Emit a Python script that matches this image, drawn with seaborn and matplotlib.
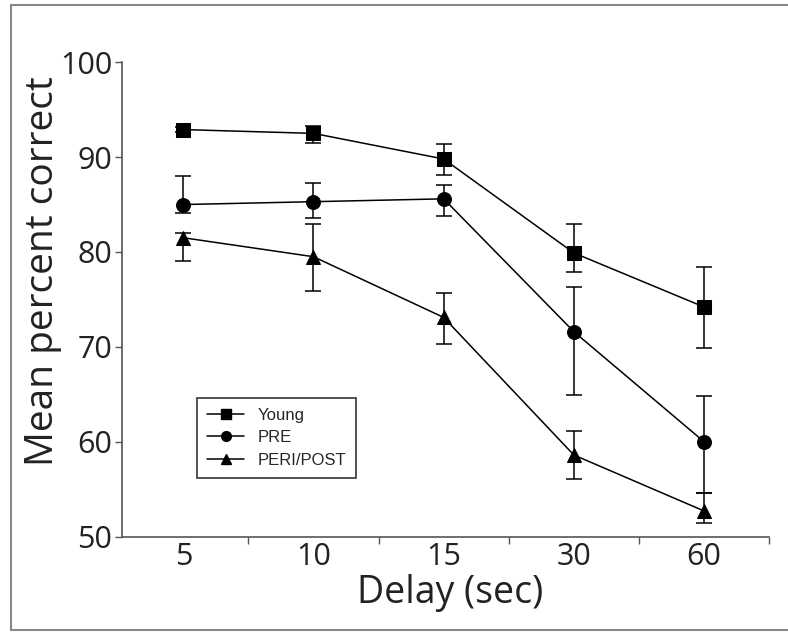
import numpy as np
import pandas as pd
import matplotlib.pyplot as plt
import seaborn as sns
from matplotlib.lines import Line2D


# Data
delays = ['5', '10', '15', '30', '60']
groups = ['Young', 'PRE', 'PERI/POST']

young    = [92.9, 92.5, 89.8, 79.9, 74.2]
young_lo = [0.3, 1.0, 1.7, 2.0, 4.3]
young_hi = [0.3, 0.8, 1.6, 3.1, 4.2]

pre      = [85.0, 85.3, 85.6, 71.6, 60.0]
pre_lo   = [0.9, 1.7, 1.8, 6.7, 5.4]
pre_hi   = [3.0, 2.0, 1.5, 4.7, 4.8]

peri     = [81.5, 79.5, 73.1, 58.6, 52.7]
peri_lo  = [2.4, 3.6, 2.8, 2.5, 1.3]
peri_hi  = [0.5, 3.5, 2.6, 2.5, 1.9]


sns.set_style('ticks')
plt.rcParams['font.family'] = ['Open Sans', 'DejaVu Sans']

x  = np.arange(len(delays))
df = pd.DataFrame({'pos'  : np.tile(x, len(groups)),
                   'score': young + pre + peri,
                   'group': np.repeat(groups, len(delays))})

markers = {'Young': 's', 'PRE': 'o', 'PERI/POST': '^'}

fig = plt.figure(figsize = (7.88, 6.35), dpi = 100)
ax  = fig.add_axes([0.155, 0.155, 0.821, 0.747])

# error bars first, markers on top
errs = {'Young': (young, young_lo, young_hi),
        'PRE': (pre, pre_lo, pre_hi),
        'PERI/POST': (peri, peri_lo, peri_hi)}
for g in groups:
    vals, lo, hi = errs[g]
    ax.errorbar(x, vals, yerr = [lo, hi], fmt = 'none', ecolor = 'black',
                elinewidth = 1.1, capsize = 6, capthick = 1.1, zorder = 2)

sns.lineplot(data = df, x = 'pos', y = 'score', hue = 'group', style = 'group',
             markers = markers, dashes = False, palette = ['black'] * 3,
             markersize = 10, linewidth = 1.1, markeredgecolor = 'black',
             legend = False, sort = False, ax = ax, zorder = 3)

ax.set_xlim(-0.47, 4.5)
ax.set_ylim(50, 100)
ax.set_yticks([50, 60, 70, 80, 90, 100])

# labels under the points, tick marks between the categories
ax.set_xticks(x, delays)
ax.set_xticks(x + 0.5, minor = True)
ax.tick_params(axis = 'x', which = 'major', length = 0, pad = 4)
ax.tick_params(axis = 'x', which = 'minor', length = 5, width = 1, color = '#555')
ax.tick_params(axis = 'y', length = 5, width = 1, color = '#555', pad = 2)
ax.tick_params(labelsize = 22, labelcolor = '#222')

for s in ['top', 'right']:
    ax.spines[s].set_visible(False)
for s in ['left', 'bottom']:
    ax.spines[s].set_color('#555')
    ax.spines[s].set_linewidth(1.2)

ax.set_xlabel('Delay (sec)', fontsize = 27, color = '#222')
ax.set_ylabel('Mean percent correct', fontsize = 28, color = '#222')
ax.xaxis.set_label_coords(0.507, -0.078)
ax.yaxis.set_label_coords(-0.093, 0.56)

handles = [Line2D([], [], color = 'black', lw = 1.1, marker = markers[g],
                  markersize = 7) for g in groups]
leg = ax.legend(handles, groups, loc = 'lower left', bbox_to_anchor = (0.116, 0.124),
                frameon = True, fancybox = False, edgecolor = 'black',
                prop = {'family': 'Liberation Sans', 'size': 12},
                handlelength = 2.2, handletextpad = 0.8, labelspacing = 0.45,
                borderpad = 0.6, borderaxespad = 0)
leg.get_frame().set_linewidth(1.2)

# grey frame of the scanned panel (top, left, bottom)
fig.add_artist(Line2D([11 / 788, 1], [1 - 5 / 635] * 2, color = '#888', lw = 1.5))
fig.add_artist(Line2D([11 / 788] * 2, [1 - 5 / 635, 1 - 630 / 635], color = '#888', lw = 1.5))
fig.add_artist(Line2D([11 / 788, 1], [1 - 630 / 635] * 2, color = '#888', lw = 1.5))

fig.savefig('out.png', dpi = 100)
